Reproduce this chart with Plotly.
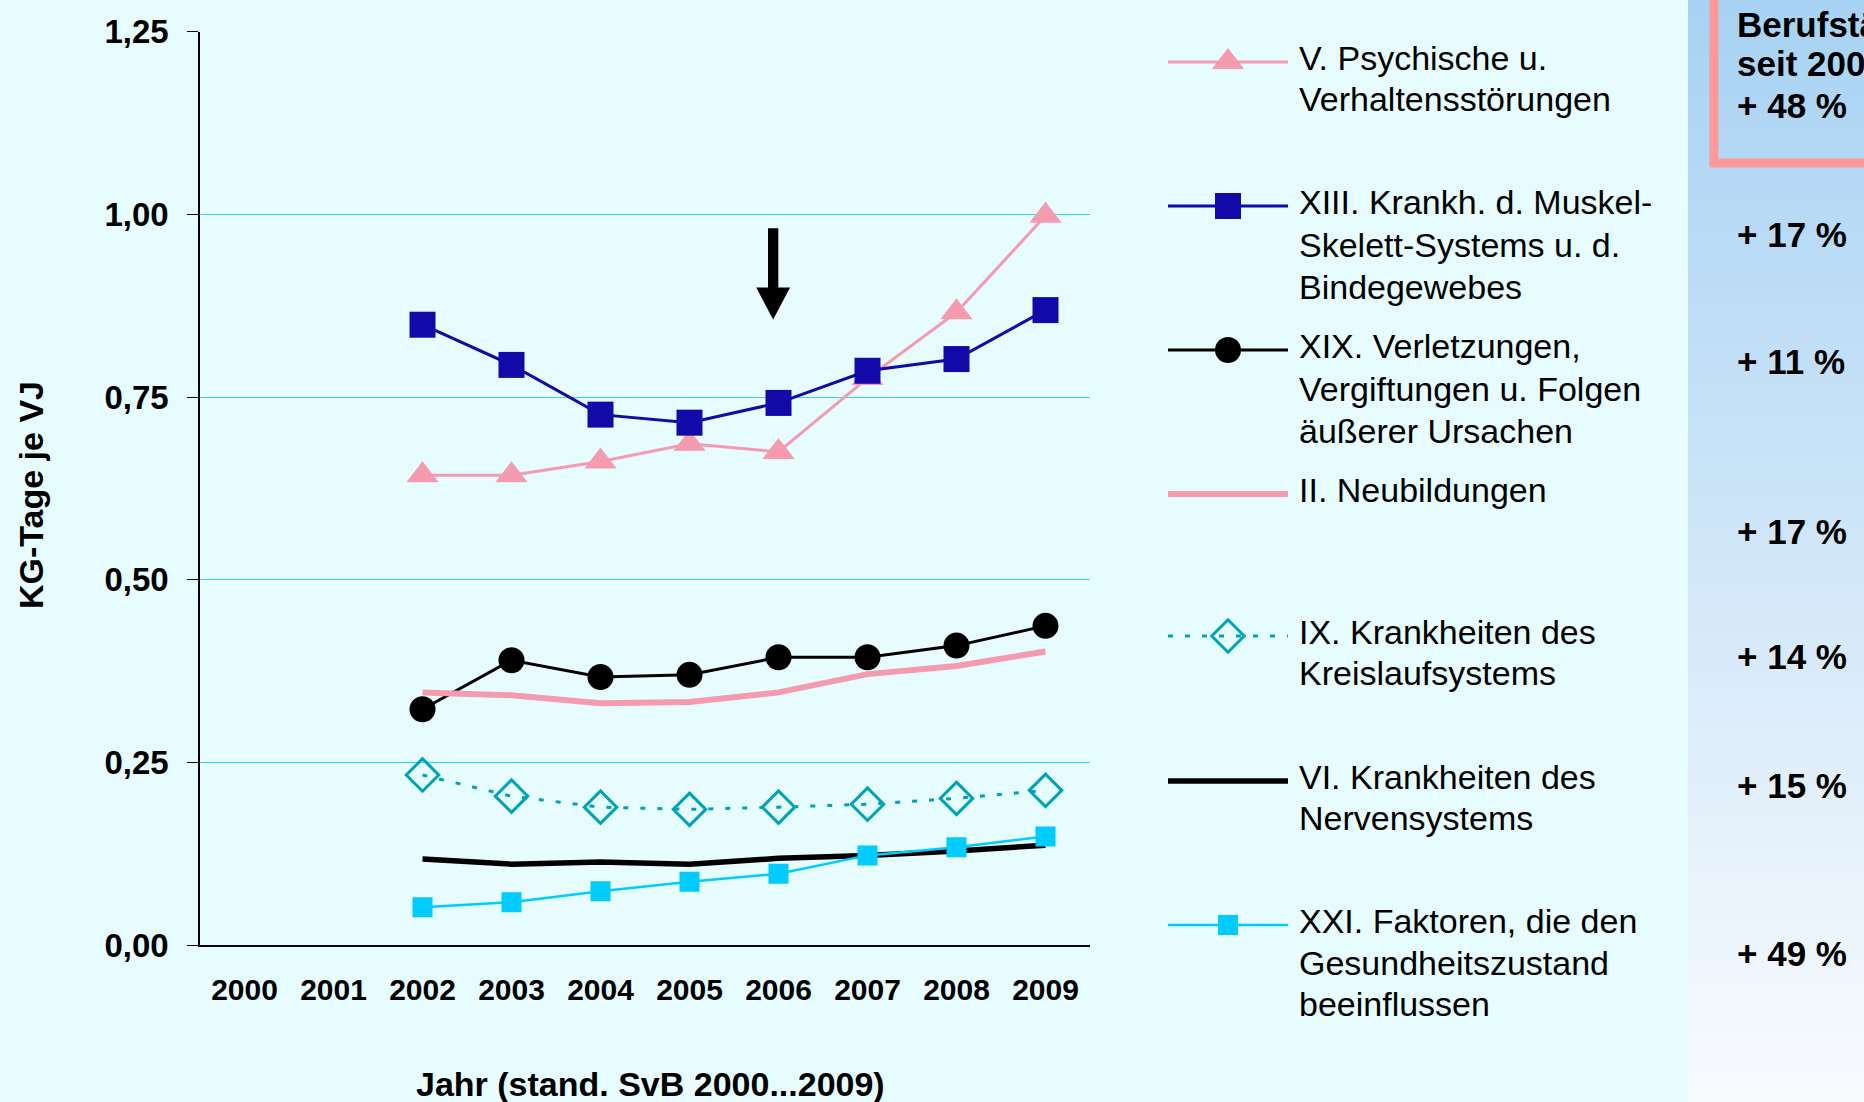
import plotly.graph_objects as go

W, H = 1864, 1102

years = [2002, 2003, 2004, 2005, 2006, 2007, 2008, 2009]
x_tick_vals = [2000, 2001, 2002, 2003, 2004, 2005, 2006, 2007, 2008, 2009]
x_tick_text = ["2000", "2001", "2002", "2003", "2004", "2005", "2006", "2007", "2008", "2009"]
y_tick_vals = [0, 0.25, 0.5, 0.75, 1.0, 1.25]
y_tick_text = ["0,00", "0,25", "0,50", "0,75", "1,00", "1,25"]

psychische = [0.643, 0.643, 0.662, 0.686, 0.675, 0.776, 0.866, 0.998]
muskel = [0.849, 0.794, 0.726, 0.715, 0.742, 0.786, 0.802, 0.869]
verletzungen = [0.323, 0.390, 0.367, 0.370, 0.394, 0.394, 0.410, 0.437]
neubildungen = [0.346, 0.342, 0.331, 0.333, 0.346, 0.371, 0.382, 0.402]
kreislauf = [0.233, 0.204, 0.189, 0.186, 0.189, 0.193, 0.201, 0.212]
nerven = [0.118, 0.111, 0.114, 0.111, 0.119, 0.123, 0.129, 0.137]
faktoren = [0.052, 0.059, 0.074, 0.087, 0.098, 0.123, 0.134, 0.149]

changes = ["+ 48 %", "+ 17 %", "+ 11 %", "+ 17 %", "+ 14 %", "+ 15 %", "+ 49 %"]
change_y_px = [107, 235, 362, 532, 658, 786, 954]

PINK = "#F59BB0"
NAVY = "#1309A8"
TEAL = "#00A3B5"
CYAN = "#00CCFF"
BG = "#E6FCFF"
GRID = "#3AD2F4"
FONT = "Arial, Liberation Sans, sans-serif"

series = [
    dict(name="psych", y=psychische, color=PINK, width=3, dash="solid",
         marker=dict(symbol="triangle-up", size=28, color=PINK)),
    dict(name="muskel", y=muskel, color=NAVY, width=3, dash="solid",
         marker=dict(symbol="square", size=26, color=NAVY)),
    dict(name="verl", y=verletzungen, color="black", width=3, dash="solid",
         marker=dict(symbol="circle", size=26, color="black")),
    dict(name="neu", y=neubildungen, color=PINK, width=6, dash="solid", marker=None),
    dict(name="kreis", y=kreislauf, color=TEAL, width=3, dash="5px,12px",
         marker=dict(symbol="diamond-open", size=25, color=TEAL, line=dict(width=3, color=TEAL))),
    dict(name="nerv", y=nerven, color="black", width=5.5, dash="solid", marker=None),
    dict(name="fakt", y=faktoren, color=CYAN, width=2.5, dash="solid",
         marker=dict(symbol="square", size=20, color=CYAN)),
]

legend_lines = [
    (["V. Psychische u.", "Verhaltensstörungen"], 62, [62, 103]),
    (["XIII. Krankh. d. Muskel-", "Skelett-Systems u. d.", "Bindegewebes"], 206, [206, 249, 291]),
    (["XIX. Verletzungen,", "Vergiftungen u. Folgen", "äußerer Ursachen"], 350, [350, 393, 435]),
    (["II. Neubildungen"], 494, [494]),
    (["IX. Krankheiten des", "Kreislaufsystems"], 636, [636, 677]),
    (["VI. Krankheiten des", "Nervensystems"], 781, [781, 822]),
    (["XXI. Faktoren, die den", "Gesundheitszustand", "beeinflussen"], 925, [925, 967, 1008]),
]

fig = go.Figure()

# data traces
for s in series:
    mode = "lines+markers" if s["marker"] else "lines"
    kw = dict(marker=s["marker"]) if s["marker"] else {}
    fig.add_trace(go.Scatter(x=years, y=s["y"], mode=mode,
                             line=dict(color=s["color"], width=s["width"], dash=s["dash"]),
                             showlegend=False, hoverinfo="skip", xaxis="x", yaxis="y", **kw))

# manual legend on overlay pixel axes
LX0, LX1, LXM = 1168, 1288, 1228
for s, (lines, ly, tys) in zip(series, legend_lines):
    fig.add_trace(go.Scatter(x=[LX0, LX1], y=[ly, ly], mode="lines",
                             line=dict(color=s["color"], width=s["width"], dash=s["dash"]),
                             showlegend=False, hoverinfo="skip", xaxis="x2", yaxis="y2"))
    if s["marker"]:
        fig.add_trace(go.Scatter(x=[LXM], y=[ly], mode="markers", marker=s["marker"],
                                 showlegend=False, hoverinfo="skip", xaxis="x2", yaxis="y2"))


def px(x):
    return x / W


def py(y):
    return 1 - y / H


annotations = []
for lines, ly, tys in legend_lines:
    for t, ty in zip(lines, tys):
        annotations.append(dict(x=px(1297), y=py(ty - 4), xref="paper", yref="paper",
                                text=t, showarrow=False, xanchor="left", yanchor="middle",
                                font=dict(family=FONT, size=34, color="black")))

# right panel texts
panel_font = dict(family=FONT, size=35, color="black")
annotations.append(dict(x=px(1735), y=py(24), xref="paper", yref="paper", text="<b>Berufstätige</b>",
                        showarrow=False, xanchor="left", yanchor="middle", font=panel_font))
annotations.append(dict(x=px(1735), y=py(64), xref="paper", yref="paper", text="<b>seit 2000</b>",
                        showarrow=False, xanchor="left", yanchor="middle", font=panel_font))
for t, yy in zip(changes, change_y_px):
    annotations.append(dict(x=px(1735), y=py(yy - 1), xref="paper", yref="paper", text="<b>%s</b>" % t,
                            showarrow=False, xanchor="left", yanchor="middle", font=panel_font))

# axis titles
annotations.append(dict(x=px(650), y=py(1084), xref="paper", yref="paper",
                        text="<b>Jahr (stand. SvB 2000...2009)</b>", showarrow=False,
                        xanchor="center", yanchor="middle",
                        font=dict(family=FONT, size=34, color="black")))
annotations.append(dict(x=px(31), y=py(495), xref="paper", yref="paper",
                        text="<b>KG-Tage je VJ</b>", showarrow=False, textangle=-90,
                        xanchor="center", yanchor="middle",
                        font=dict(family=FONT, size=34, color="black")))

shapes = []
# gradient panel
PANEL_X0 = 1688
N = 80
top = (168, 210, 243)
bot = (248, 251, 254)
for i in range(N):
    f = i / (N - 1)
    c = tuple(round(top[k] + (bot[k] - top[k]) * f) for k in range(3))
    shapes.append(dict(type="rect", xref="paper", yref="paper",
                       x0=px(PANEL_X0), x1=1.01, y0=py(H * (i + 1) / N + 0.5), y1=py(H * i / N - 0.5),
                       fillcolor="rgb(%d,%d,%d)" % c, line=dict(width=0), layer="below"))
# pink box
shapes.append(dict(type="rect", xref="paper", yref="paper",
                   x0=px(1714), x1=px(1900), y0=py(163), y1=py(-20),
                   fillcolor="rgba(0,0,0,0)", line=dict(color="#FF9999", width=9), layer="below"))

# arrow (data coords)
AX, A_TOP, A_BASE, A_TIP = 2005.94, 0.981, 0.900, 0.856
SH, HH = 0.058, 0.19
path = ("M {a},{t} L {b},{t} L {b},{base} L {c},{base} L {x},{tip} L {d},{base} L {a},{base} Z"
        .format(a=AX - SH, b=AX + SH, c=AX + HH, d=AX - HH, x=AX, t=A_TOP, base=A_BASE, tip=A_TIP))
shapes.append(dict(type="path", xref="x", yref="y", path=path, fillcolor="black",
                   line=dict(color="black", width=0), layer="above"))

fig.update_layout(
    width=W, height=H,
    margin=dict(l=0, r=0, t=0, b=0, autoexpand=False),
    paper_bgcolor=BG, plot_bgcolor="rgba(0,0,0,0)",
    font=dict(family=FONT, color="black"),
    showlegend=False,
    annotations=annotations,
    shapes=shapes,
    xaxis=dict(domain=[200 / W, 1090 / W], range=[1999.5, 2009.5], automargin=False,
               tickmode="array", tickvals=x_tick_vals, ticktext=x_tick_text,
               showgrid=False, zeroline=False, showline=True, linecolor="black", linewidth=1.5,
               ticks="", ticklabelstandoff=17,
               tickfont=dict(family=FONT, size=30, color="black", weight="bold"),
               anchor="y", fixedrange=True),
    yaxis=dict(domain=[1 - 945.3 / H, 1 - 31.6 / H], range=[0, 1.25], automargin=False,
               tickmode="array", tickvals=y_tick_vals, ticktext=y_tick_text,
               showgrid=True, gridcolor=GRID, gridwidth=1, zeroline=False,
               showline=True, linecolor="black", linewidth=1.5,
               ticks="outside", ticklen=11, tickcolor="black", tickwidth=1,
               ticklabelstandoff=12,
               tickfont=dict(family=FONT, size=33, color="black", weight="bold"),
               anchor="x", fixedrange=True),
    xaxis2=dict(domain=[0, 1], range=[0, W], visible=False, anchor="y2", fixedrange=True, automargin=False),
    yaxis2=dict(domain=[0, 1], range=[H, 0], visible=False, anchor="x2", fixedrange=True, automargin=False),
)

fig.write_html("out.html", config={"displayModeBar": False},
               post_script="document.body.style.margin='0';document.body.style.overflow='hidden';")
